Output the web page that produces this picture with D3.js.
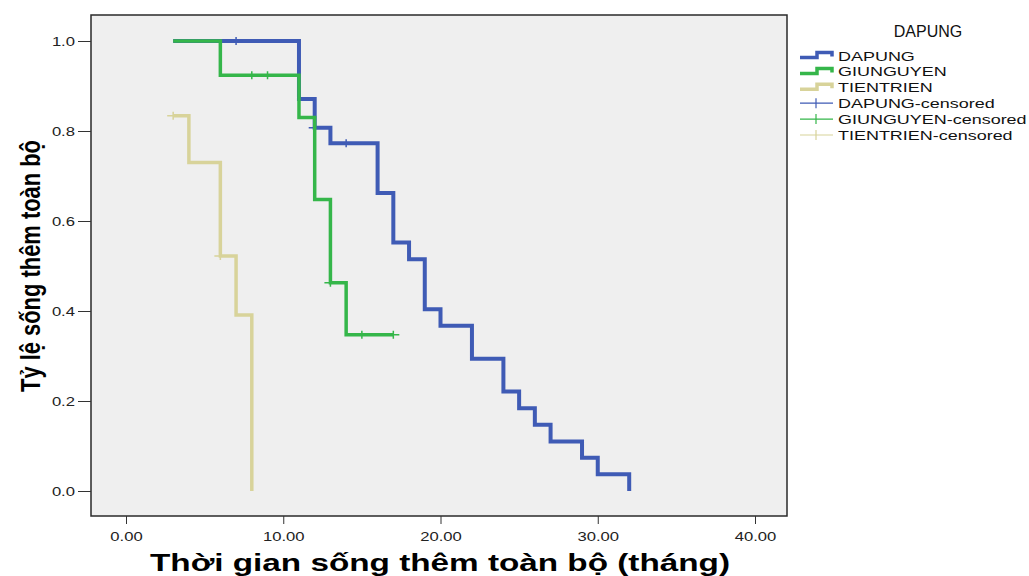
<!DOCTYPE html>
<html>
<head>
<meta charset="utf-8">
<script src="https://cdn.jsdelivr.net/npm/d3@7"></script>
<style>
  body { margin: 0; background: #fff; }
  svg { display: block; font-family: "Liberation Sans", Arial, sans-serif; }
  .tick text { font-size: 12.5px; fill: #222; }
  .legend text { font-size: 13.5px; fill: #111; }
</style>
</head>
<body>
<div id="wrapper"></div>
<script>
// survival curves: [time, survival proportion]
const dapungSteps = [[3, 1.0], [11, 0.871], [12, 0.807], [13, 0.773], [16, 0.662], [17, 0.552],
  [18, 0.515], [19, 0.404], [20, 0.367], [22, 0.294], [24, 0.221], [25, 0.184], [26, 0.147],
  [27, 0.110], [29, 0.074], [30, 0.037], [32, 0.0]]
const dapungCensored = [[7, 1.0], [12, 0.807], [14, 0.773]]

const giunguyenSteps = [[3, 1.0], [6, 0.924], [11, 0.830], [12, 0.648], [13, 0.463], [14, 0.347]]
const giunguyenEnd = 17
const giunguyenCensored = [[8, 0.924], [9, 0.924], [13, 0.463], [15, 0.347], [17, 0.347]]

const tientrienSteps = [[3, 0.834], [4, 0.730], [6, 0.522], [7, 0.391], [8, 0.0]]
const tientrienCensored = [[3, 0.834], [6, 0.522]]

const xTicks = [0, 10, 20, 30, 40]
const yTicks = [0, 0.2, 0.4, 0.6, 0.8, 1.0]
const legendTitle = "DAPUNG"
const groups = ["DAPUNG", "GIUNGUYEN", "TIENTRIEN"]
const colors = ["#3f5bb5", "#35b64a", "#d8d39a"]

const width = 1029, height = 576
const frame = { left: 91, top: 15, right: 787, bottom: 516 }
const stretch = 1.33 // the original picture is a bit wider than tall

const svg = d3.select("#wrapper").append("svg")
  .attr("width", width).attr("height", height)

// widen text horizontally like the reference
const widen = (sel, k) => sel.each(function () {
  const w = this.getComputedTextLength()
  d3.select(this).attr("textLength", w * k).attr("lengthAdjust", "spacingAndGlyphs")
})

const xScale = d3.scaleLinear().domain([0, 40]).range([126, 755])
const yScale = d3.scaleLinear().domain([0, 1]).range([491, 41])

svg.append("rect")
  .attr("x", frame.left).attr("y", frame.top)
  .attr("width", frame.right - frame.left).attr("height", frame.bottom - frame.top)
  .attr("fill", "#efefef").attr("stroke", "#2a2a2a").attr("stroke-width", 1.5)

// axes
const xAxis = svg.append("g")
  .attr("transform", `translate(0,${frame.bottom})`)
  .call(d3.axisBottom(xScale).tickValues(xTicks).tickFormat(d3.format(".2f")).tickSize(8).tickSizeOuter(0))
xAxis.select(".domain").remove()
xAxis.selectAll(".tick line").attr("stroke", "#333")
xAxis.selectAll(".tick text").attr("dy", "1.1em").call(widen, stretch)

const yAxis = svg.append("g")
  .attr("transform", `translate(${frame.left},0)`)
  .call(d3.axisLeft(yScale).tickValues(yTicks).tickFormat(d3.format(".1f")).tickSize(13).tickSizeOuter(0))
yAxis.select(".domain").remove()
yAxis.selectAll(".tick line").attr("stroke", "#333")
yAxis.selectAll(".tick text").attr("x", -16).call(widen, stretch)

// curves
const stepLine = d3.line()
  .x(d => xScale(d[0]))
  .y(d => yScale(d[1]))
  .curve(d3.curveStepAfter)

const series = [
  { steps: dapungSteps, censored: dapungCensored, end: null, width: 4 },
  { steps: giunguyenSteps, censored: giunguyenCensored, end: giunguyenEnd, width: 3.5 },
  { steps: tientrienSteps, censored: tientrienCensored, end: null, width: 3.5 }
]

series.forEach((s, i) => {
  const pts = s.end ? [...s.steps, [s.end, s.steps[s.steps.length - 1][1]]] : s.steps
  svg.append("path")
    .attr("d", stepLine(pts))
    .attr("fill", "none")
    .attr("stroke", colors[i])
    .attr("stroke-width", s.width)
    .attr("stroke-linejoin", "miter")
  svg.append("g").selectAll("path")
    .data(s.censored)
    .join("path")
      .attr("d", d => {
        const x = xScale(d[0]), y = yScale(d[1])
        return `M${x - 6},${y}H${x + 6}M${x},${y - 4}V${y + 4}`
      })
      .attr("stroke", colors[i])
      .attr("stroke-width", 1.5)
})

// axis titles
svg.append("text")
  .attr("x", 440).attr("y", 571)
  .attr("text-anchor", "middle")
  .style("font-size", "24px").style("font-weight", "bold")
  .attr("textLength", 580).attr("lengthAdjust", "spacingAndGlyphs")
  .text("Thời gian sống thêm toàn bộ (tháng)")

svg.append("text")
  .attr("transform", "translate(40,266) rotate(-90)")
  .attr("text-anchor", "middle")
  .style("font-size", "27px").style("font-weight", "bold")
  .style("font-family", "'Liberation Sans Narrow', 'Liberation Sans', Arial, sans-serif")
  .attr("textLength", 252).attr("lengthAdjust", "spacingAndGlyphs")
  .text("Tỷ lệ sống thêm toàn bộ")

// legend
const legend = svg.append("g").attr("class", "legend")
legend.append("text")
  .attr("x", 928).attr("y", 37)
  .attr("text-anchor", "middle")
  .style("font-size", "16px")
  .text(legendTitle)

const legendRows = [
  ...groups.map((g, i) => ({ label: g, color: colors[i], type: "step" })),
  ...groups.map((g, i) => ({ label: g + "-censored", color: colors[i], type: "cens" }))
]
legendRows.forEach((r, i) => {
  const y = 55.5 + i * 15.9
  if (r.type === "step") {
    legend.append("path")
      .attr("d", `M800,${y + 2}H817V${y - 3}H832V${y + 1}`)
      .attr("fill", "none").attr("stroke", r.color).attr("stroke-width", 3.5)
  } else {
    legend.append("path")
      .attr("d", `M800,${y}H833M816,${y - 5}V${y + 5}`)
      .attr("stroke", r.color).attr("stroke-width", 1.2)
  }
  legend.append("text")
    .attr("x", 838).attr("y", y + 5)
    .text(r.label)
    .call(widen, stretch)
})
</script>
</body>
</html>
